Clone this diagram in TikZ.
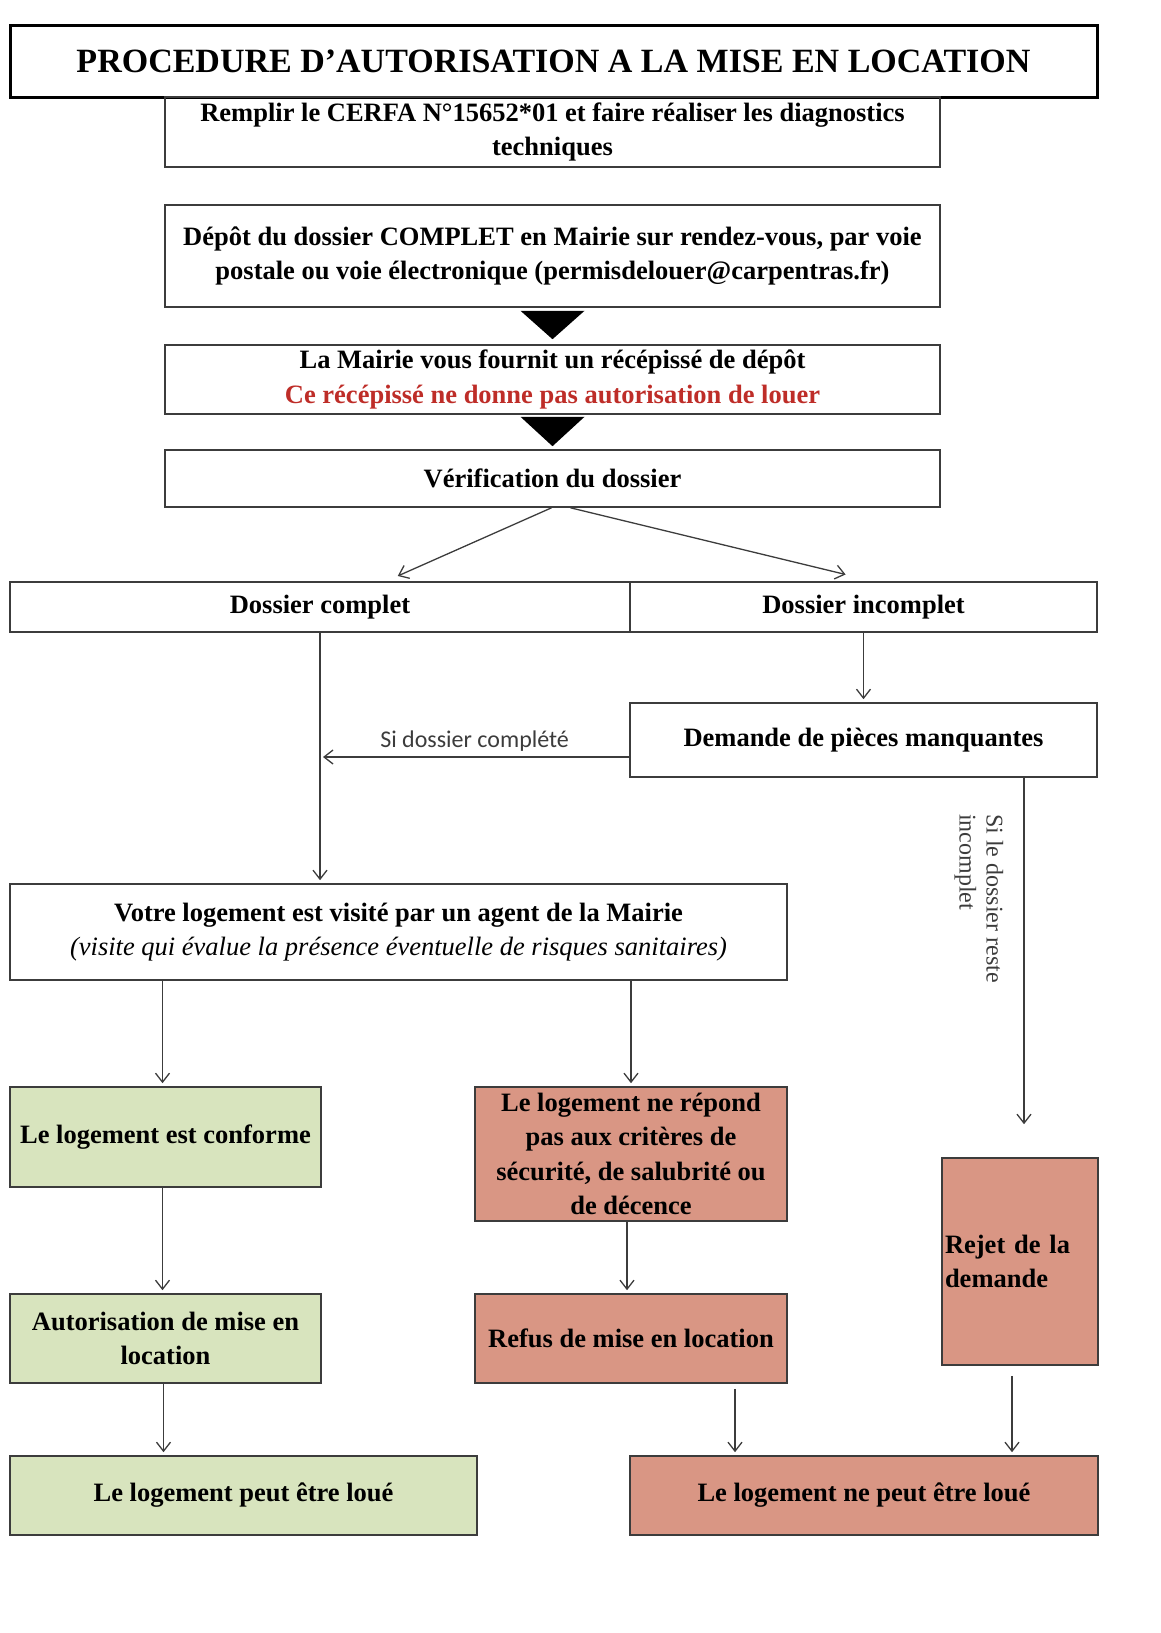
\documentclass[tikz,border=0pt]{standalone}
\usepackage{fontspec}
\setmainfont{Liberation Serif}
\newfontfamily\labelfont{Carlito}
\usetikzlibrary{arrows.meta}
\definecolor{vert}{RGB}{216,228,190}
\definecolor{saumon}{RGB}{217,150,132}
\definecolor{trait}{RGB}{60,60,60}
\definecolor{rouge}{RGB}{190,45,40}
\begin{document}
\begin{tikzpicture}[x=1pt,y=-1pt,
    boite/.style={draw=trait,line width=1.6pt,inner sep=0pt,align=center,
        font=\bfseries\fontsize{26.5}{34.5}\selectfont},
    vertbox/.style={boite,fill=vert},
    saumonbox/.style={boite,fill=saumon},
    fleche/.style={draw=trait,line width=1.3pt,-{Straight Barb[length=9pt,width=14pt]},shorten >=3pt}]
    \useasboundingbox (0,0) rectangle (1160,1633);
    % cadres du haut
    \node[boite,draw=black,line width=3pt,minimum width=1087pt,minimum height=72pt,
        font=\bfseries\fontsize{34}{36}\selectfont] (titre) at (553.5,61)
        {PROCEDURE D'AUTORISATION A LA MISE EN LOCATION};
    \node[boite,minimum width=775pt,minimum height=70pt] (cerfa) at (552.5,132)
        {Remplir le CERFA N°15652*01 et faire réaliser les diagnostics\\techniques};
    \node[boite,minimum width=775pt,minimum height=102pt] (depot) at (552.5,256)
        {Dépôt du dossier COMPLET en Mairie sur rendez-vous, par voie\\postale ou voie électronique (permisdelouer@carpentras.fr)};
    \node[boite,minimum width=775pt,minimum height=69pt] (mairie) at (552.5,379.5)
        {La Mairie vous fournit un récépissé de dépôt\\\textcolor{rouge}{Ce récépissé ne donne pas autorisation de louer}};
    \node[boite,minimum width=775pt,minimum height=57pt] (verif) at (552.5,478.5)
        {Vérification du dossier};
    % triangles noirs
    \fill ([xshift=-32pt,yshift=-3pt]depot.south) -- ([xshift=32pt,yshift=-3pt]depot.south)
        -- ([yshift=5pt]mairie.north) -- cycle;
    \fill ([xshift=-32pt,yshift=-2pt]mairie.south) -- ([xshift=32pt,yshift=-2pt]mairie.south)
        -- ([yshift=3pt]verif.north) -- cycle;
    % tri du dossier
    \node[boite,minimum width=620pt,minimum height=50pt] (complet) at (320,607)
        {Dossier complet};
    \node[boite,minimum width=467pt,minimum height=50pt] (incomplet) at (863.5,607)
        {Dossier incomplet};
    \node[boite,minimum width=467pt,minimum height=74pt] (demande) at (863.5,740)
        {Demande de pièces manquantes};
    \node[boite,minimum width=777pt,minimum height=96pt] (visite) at (398.5,932)
        {Votre logement est visité par un agent de la Mairie\\
        {\mdseries\itshape (visite qui évalue la présence éventuelle de risques sanitaires)}};
    % resultats
    \node[vertbox,minimum width=311pt,minimum height=100pt] (conforme) at (165.5,1137)
        {Le logement est conforme};
    \node[saumonbox,minimum width=312pt,minimum height=134pt] (critere) at (631,1154)
        {Le logement ne répond\\pas aux critères de\\sécurité, de salubrité ou\\de décence};
    \node[saumonbox,minimum width=156pt,minimum height=207pt,align=left,text width=150pt] (rejet) at (1020,1261.5)
        {Rejet de la\\demande};
    \node[vertbox,minimum width=311pt,minimum height=89pt] (autor) at (165.5,1338.5)
        {Autorisation de mise en\\location};
    \node[saumonbox,minimum width=312pt,minimum height=89pt] (refus) at (631,1338.5)
        {Refus de mise en location};
    \node[vertbox,minimum width=467pt,minimum height=79pt] (peut) at (243.5,1495.5)
        {Le logement peut être loué};
    \node[saumonbox,minimum width=468pt,minimum height=79pt] (nepeut) at (864,1495.5)
        {Le logement ne peut être loué};
    % fleches
    \draw[fleche] ([xshift=-1pt]verif.south) -- ([xshift=75pt,yshift=4pt]complet.north);
    \draw[fleche] ([xshift=18pt]verif.south) -- ([xshift=-15pt,yshift=6pt]incomplet.north);
    \draw[fleche] (complet.south) -- (complet.south |- visite.north);
    \draw[fleche] (incomplet.south) -- (incomplet.south |- demande.north);
    \draw[fleche] ([yshift=-17pt]demande.west) -- ([yshift=-17pt]demande.west -| complet.south)
        node[midway,above,text=trait,font=\labelfont\fontsize{24}{26}\selectfont,inner sep=5pt] {Si dossier complété};
    \draw[fleche] ([xshift=4pt]rejet.north |- demande.south) -- ([xshift=4pt,yshift=30pt]rejet.north)
        node[pos=0.345,rotate=-90,anchor=north,align=left,text=trait,inner sep=20pt,
            font=\fontsize{24}{27}\selectfont] {Si le dossier reste\\incomplet};
    \draw[fleche] ([xshift=-3pt]conforme.north |- visite.south) -- ([xshift=-3pt]conforme.north);
    \draw[fleche] (critere.north |- visite.south) -- (critere.north);
    \draw[fleche] ([xshift=-3pt]conforme.south) -- ([xshift=-3pt]autor.north);
    \draw[fleche] ([xshift=-4pt]critere.south) -- ([xshift=-4pt]refus.north);
    \draw[fleche] ([xshift=-2pt]autor.south) -- ([xshift=-2pt]autor.south |- peut.north);
    \draw[fleche] ([xshift=104pt,yshift=-5pt]refus.south) -- ([xshift=104pt]refus.south |- nepeut.north);
    \draw[fleche] ([xshift=-8pt,yshift=-10pt]rejet.south) -- ([xshift=-8pt]rejet.south |- nepeut.north);
\end{tikzpicture}
\end{document}
